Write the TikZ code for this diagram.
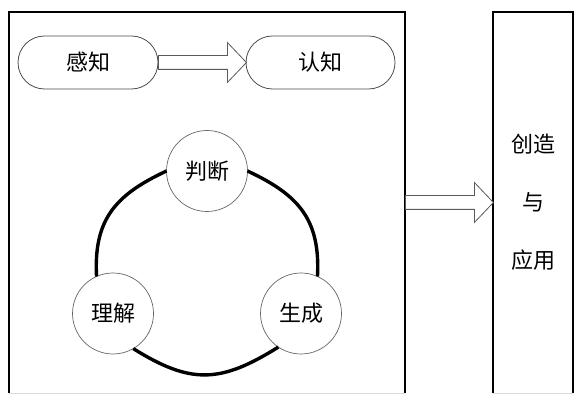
\documentclass[tikz,border=0pt]{standalone}
\usepackage{fontspec}
\setmainfont{Noto Sans CJK SC}
\usetikzlibrary{positioning}
\usetikzlibrary{shapes.arrows}
\tikzset{box/.style = {inner sep=0pt, outer sep=0pt, minimum height=190.5pt}}
\tikzset{pill/.style = {draw=black!70, line width=0.4pt, rounded corners=13.25pt,
                        minimum height=26.5pt, outer sep=0pt,
                        font=\fontsize{11}{13}\selectfont}}
\tikzset{stage/.style = {circle, draw=black!60, line width=0.35pt, minimum size=40.5pt,
                         inner sep=0pt, outer sep=0pt, font=\fontsize{11}{13}\selectfont}}
\tikzset{hollowarrow/.style = {single arrow, draw=black!65, fill=white, line width=0.4pt,
                               inner sep=3.25pt, single arrow head extend=6.5pt,
                               single arrow tip angle=93, minimum height=44pt, anchor=tail}}
\tikzset{cyc/.style = {line width=1.7pt}}

\begin{document}
\begin{tikzpicture}[x=0.5pt, y=0.5pt]
      \useasboundingbox (0, 0) rectangle (583, 401);

      \node [box, minimum width=198pt] (lbox) at (207, 198.5) {};
      \node [box, minimum width=40pt, align=center,
             font=\fontsize{11}{29}\selectfont] (rbox) at (533, 198.5) {创造\\与\\应用};
      \foreach \b in {lbox, rbox} {
        \draw [line width=0.7pt] (\b.south west) -- (\b.north west)
              -- (\b.north east) -- (\b.south east);
        \draw [black!15] (\b.south west) -- (\b.south east);
      }

      \node [pill, minimum width=70pt] (gz) at (88, 338.5) {感知};
      \node [pill, minimum width=74.5pt] (rz) at (320.5, 338.5) {认知};
      \node [hollowarrow] (arr1) at (gz.east) {};
      \node [hollowarrow] (arr2) at (lbox.east) {};

      \node [stage] (pd) at (207, 230) {判断};
      \node [stage] (lj) at (113, 87.5) {理解};
      \node [stage] (sc) at (301, 87.5) {生成};

      \draw [cyc] (pd.180) to [out=205, in=93, looseness=1.15] (lj.114);
      \draw [cyc] (lj.-60) to [out=-32, in=212, looseness=1.2] (sc.-124);
      \draw [cyc] (sc.66) to [out=87, in=-25, looseness=1.15] (pd.0);
    \end{tikzpicture}
\end{document}
